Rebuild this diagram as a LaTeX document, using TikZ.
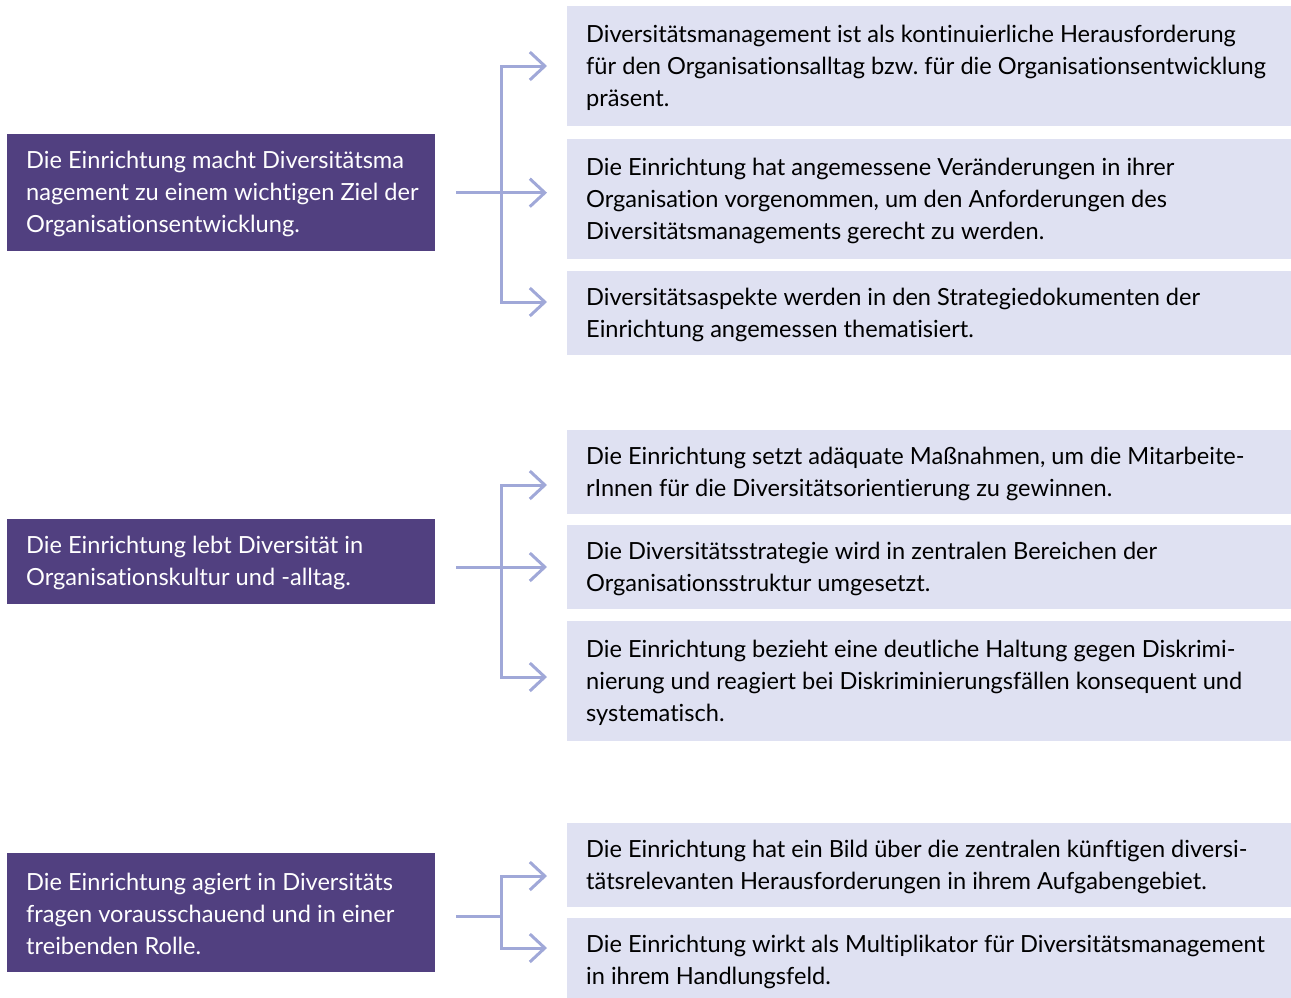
\documentclass[tikz,border=0pt]{standalone}
\usepackage{fontspec}
\setmainfont{Lato}[Ligatures={NoCommon}]
\usetikzlibrary{arrows.meta}
\frenchspacing

\definecolor{goalfill}{RGB}{81,64,128}
\definecolor{itemfill}{RGB}{223,225,242}
\definecolor{linkcol}{RGB}{160,168,216}

\tikzset{
  goalbox/.style={fill=goalfill, anchor=north west, inner sep=0pt, minimum width=428pt},
  itembox/.style={fill=itemfill, anchor=north west, inner sep=0pt, minimum width=724pt},
  boxtext/.style={font=\fontsize{23.6}{32}\selectfont, align=left, anchor=west, inner sep=0pt},
  goaltext/.style={boxtext, text=white},
  itemtext/.style={boxtext, text=black},
  link/.style={draw=linkcol, line width=3pt},
  linkarrow/.style={link, -{Straight Barb[length=15pt,width=28pt,line width=3pt]}},
}
% text sits 19pt in from the left edge and slightly below the box centre
\newcommand{\boxlabel}[3]{%
  \node[#1] (#2t) at ([xshift=19pt,yshift=-1.5pt]#2.west) {#3};}

\begin{document}
\begin{tikzpicture}[x=1pt,y=-1pt]
\useasboundingbox (0,0) rectangle (1291,997);

% goals on the left
\node[goalbox, minimum height=117pt] (g1) at (7,134) {};
\node[goalbox, minimum height=85pt]  (g2) at (7,519) {};
\node[goalbox, minimum height=119pt] (g3) at (7,853) {};
\boxlabel{goaltext}{g1}{Die Einrichtung macht Diversitätsma\\nagement zu einem wichtigen Ziel der\\Organisationsentwicklung.}
\boxlabel{goaltext}{g2}{Die Einrichtung lebt Diversität in\\Organisationskultur und -alltag.}
\boxlabel{goaltext}{g3}{Die Einrichtung agiert in Diversitäts\\fragen vorausschauend und in einer\\treibenden Rolle.}

% criteria on the right
\node[itembox, minimum height=120pt] (r1) at (567,6) {};
\node[itembox, minimum height=120pt] (r2) at (567,139) {};
\node[itembox, minimum height=84pt]  (r3) at (567,271) {};
\node[itembox, minimum height=84pt]  (r4) at (567,430) {};
\node[itembox, minimum height=84pt]  (r5) at (567,525) {};
\node[itembox, minimum height=120pt] (r6) at (567,621) {};
\node[itembox, minimum height=84pt]  (r7) at (567,823) {};
\node[itembox, minimum height=84pt]  (r8) at (567,918) {};

\boxlabel{itemtext}{r1}{Diversitätsmanagement ist als kontinuierliche Herausforderung\\für den Organisationsalltag bzw. für die Organisationsentwicklung\\präsent.}
\boxlabel{itemtext}{r2}{Die Einrichtung hat angemessene Veränderungen in ihrer\\Organisation vorgenommen, um den Anforderungen des\\Diversitätsmanagements gerecht zu werden.}
\boxlabel{itemtext}{r3}{Diversitätsaspekte werden in den Strategiedokumenten der\\Einrichtung angemessen thematisiert.}
\boxlabel{itemtext}{r4}{Die Einrichtung setzt adäquate Maßnahmen, um die Mitarbeite-\\rInnen für die Diversitätsorientierung zu gewinnen.}
\boxlabel{itemtext}{r5}{Die Diversitätsstrategie wird in zentralen Bereichen der\\Organisationsstruktur umgesetzt.}
\boxlabel{itemtext}{r6}{Die Einrichtung bezieht eine deutliche Haltung gegen Diskrimi-\\nierung und reagiert bei Diskriminierungsfällen konsequent und\\systematisch.}
\boxlabel{itemtext}{r7}{Die Einrichtung hat ein Bild über die zentralen künftigen diversi-\\tätsrelevanten Herausforderungen in ihrem Aufgabengebiet.}
\boxlabel{itemtext}{r8}{Die Einrichtung wirkt als Multiplikator für Diversitätsmanagement\\in ihrem Handlungsfeld.}

% group 1 connectors
\coordinate (s1) at ([xshift=21pt]g1.east);
\coordinate (b1) at (501,193);
\draw[linkarrow] (s1) -- ([xshift=-20pt]r2.west |- s1);
\draw[linkarrow] (b1) |- ([xshift=-20pt]r1.west |- 0,66);
\draw[linkarrow] (b1) |- ([xshift=-20pt]r3.west |- 0,302);

% group 2 connectors
\coordinate (b2) at (501,567);
\draw[linkarrow] ([xshift=21pt]g2.east |- b2) -- ([xshift=-20pt]r5.west |- b2);
\draw[linkarrow] (b2) |- ([xshift=-20pt]r4.west |- 0,485);
\draw[linkarrow] (b2) |- ([xshift=-20pt]r6.west |- 0,677);

% group 3 connectors
\coordinate (b3) at (501,916);
\draw[link] ([xshift=21pt]g3.east |- b3) -- (b3);
\draw[linkarrow] (b3) |- ([xshift=-20pt]r7.west |- 0,876);
\draw[linkarrow] (b3) |- ([xshift=-20pt]r8.west |- 0,948);
\end{tikzpicture}
\end{document}
